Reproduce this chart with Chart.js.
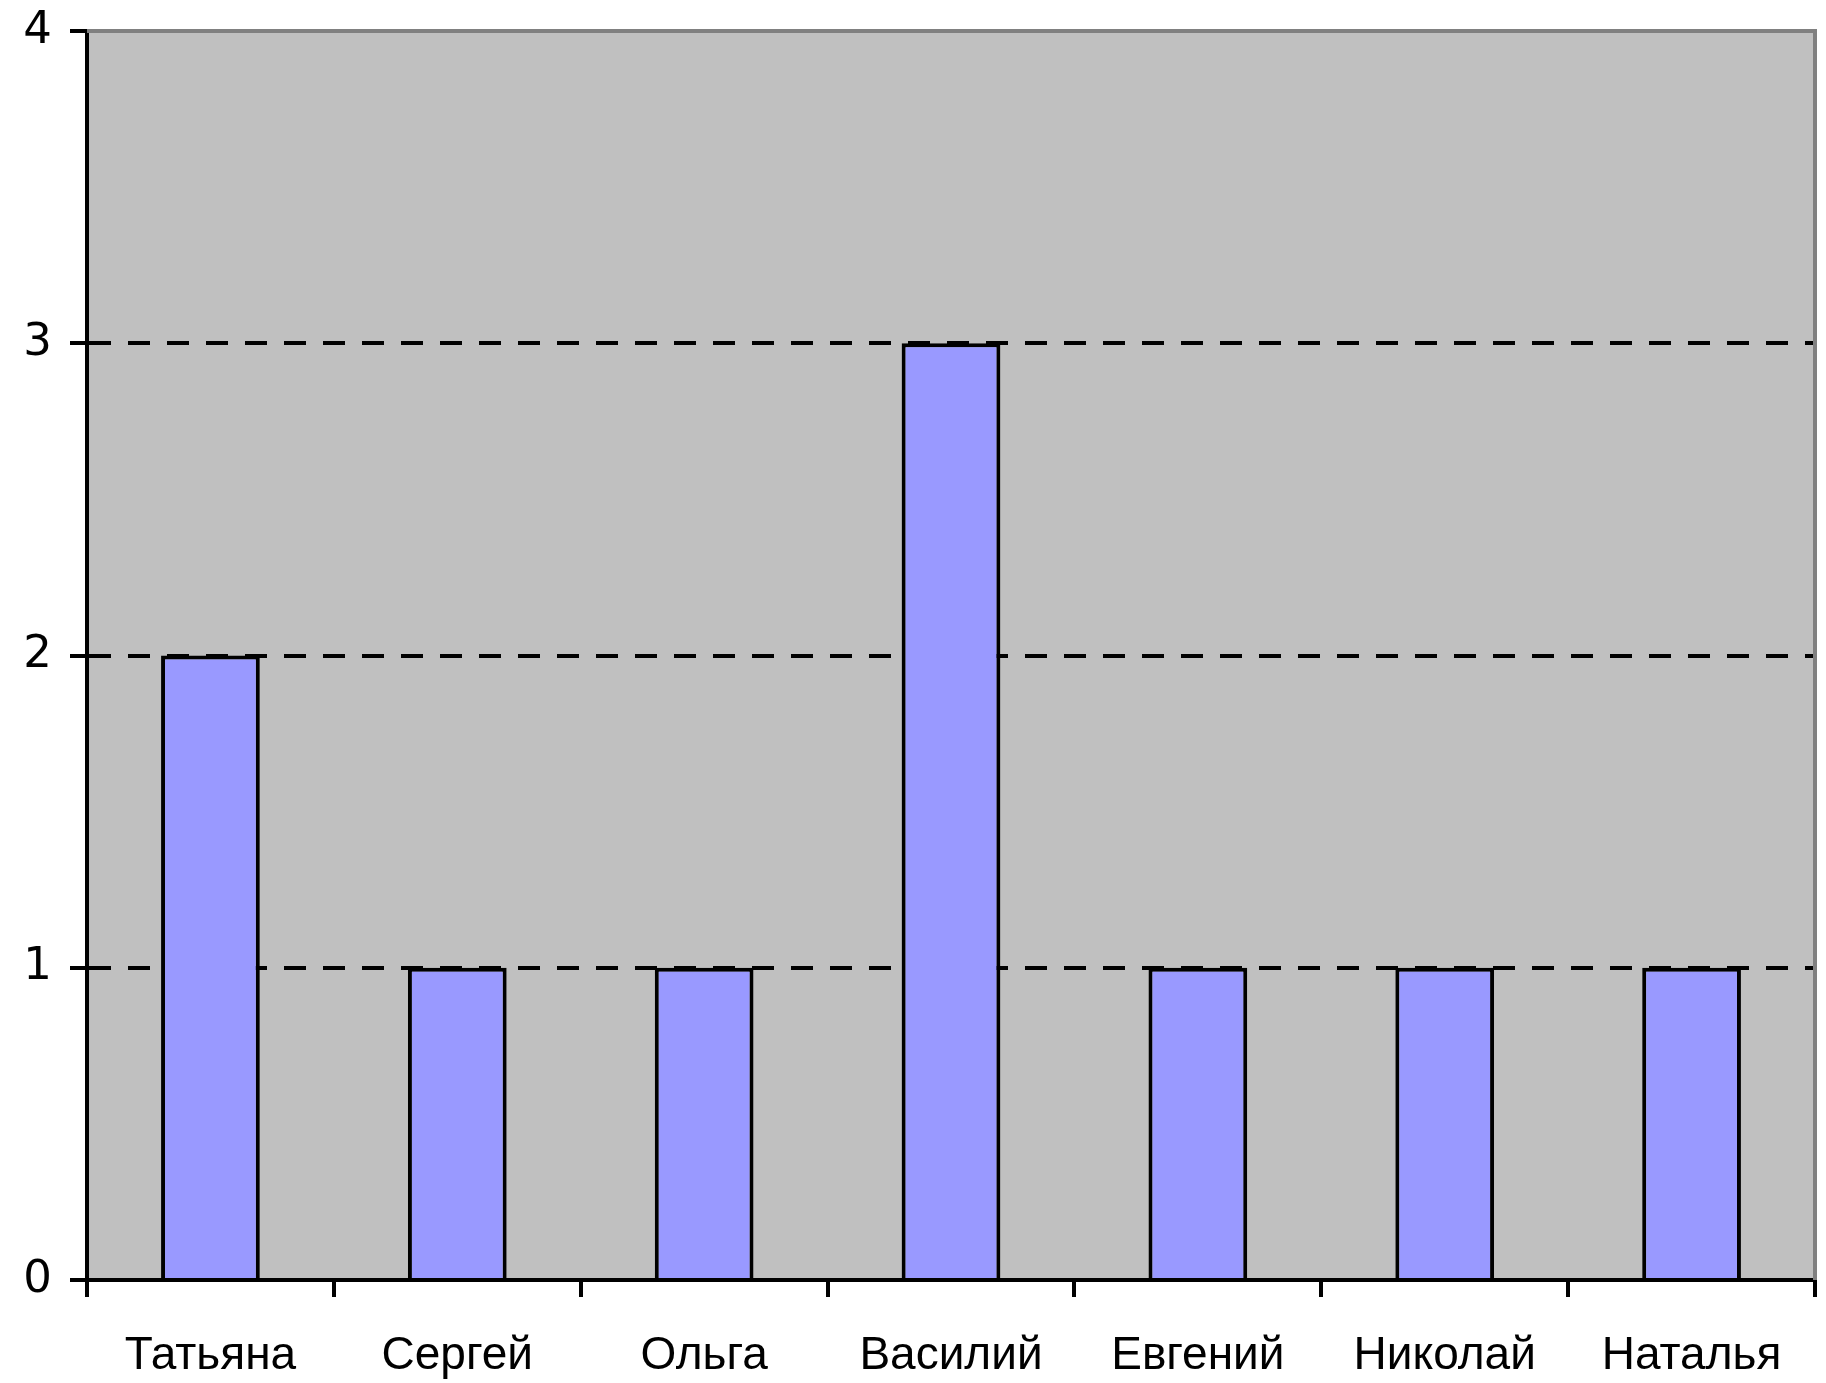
<!DOCTYPE html>
<html>
<head>
<meta charset="utf-8">
<script src="https://cdn.jsdelivr.net/npm/chart.js@4/dist/chart.umd.min.js"></script>
<style>
  html, body { margin: 0; padding: 0; background: #fff; }
  #wrap { width: 1826px; height: 1383px; }
</style>
</head>
<body>
<div id="wrap"><canvas id="chart"></canvas></div>
<script>
// Datos del gráfico
const names = ['Татьяна', 'Сергей', 'Ольга', 'Василий', 'Евгений', 'Николай', 'Наталья'];
const counts = [2, 1, 1, 3, 1, 1, 1];
const yTicks = [0, 1, 2, 3, 4];

// Fondo gris del área de trazado y borde superior/derecho
const plotArea = {
    id: 'plotArea',
    beforeDraw(chart) {
        const { ctx, chartArea: a } = chart;
        ctx.save();
        ctx.fillStyle = '#c0c0c0';
        ctx.fillRect(a.left, a.top, a.right - a.left, a.bottom - a.top);
        ctx.restore();
    },
    afterDraw(chart) {
        const { ctx, chartArea: a } = chart;
        ctx.save();
        ctx.strokeStyle = '#808080';
        ctx.lineWidth = 4;
        ctx.beginPath();
        ctx.moveTo(a.left, a.top);
        ctx.lineTo(a.right, a.top);
        ctx.lineTo(a.right, a.bottom);
        ctx.stroke();
        ctx.restore();
    }
};

const ctx = document.getElementById('chart').getContext('2d');
new Chart(ctx, {
    type: 'bar',
    data: {
        labels: names,
        datasets: [{
            data: counts,
            backgroundColor: '#9999ff',
            borderColor: '#000000',
            borderWidth: 4,
            barPercentage: 0.4,
            categoryPercentage: 1.0
        }]
    },
    options: {
        responsive: true,
        maintainAspectRatio: false,
        animation: false,
        layout: { padding: { top: 31, right: 11, left: 0, bottom: 0 } },
        plugins: {
            legend: { display: false },
            tooltip: { enabled: false }
        },
        scales: {
            x: {
                offset: true,
                grid: {
                    offset: true,
                    drawOnChartArea: false,
                    drawTicks: true,
                    tickLength: 17,
                    tickColor: '#000',
                    lineWidth: 4
                },
                border: { display: true, color: '#000', width: 4 },
                ticks: {
                    color: '#000',
                    padding: 32,
                    maxRotation: 0,
                    autoSkip: false,
                    font: { family: 'Liberation Sans, Arial, sans-serif', size: 46 }
                },
                afterFit(scale) {
                    scale.height = 103;
                    scale.paddingLeft = 0;
                    scale.paddingRight = 0;
                }
            },
            y: {
                min: 0,
                max: 4,
                afterBuildTicks(scale) { scale.ticks = yTicks.map(v => ({ value: v })); },
                grid: {
                    color: c => (c.tick && (c.tick.value === 0 || c.tick.value === 4)) ? 'rgba(0,0,0,0)' : '#000',
                    tickColor: '#000',
                    lineWidth: 4,
                    tickLength: 17,
                    tickBorderDash: []
                },
                border: { display: true, color: '#000', width: 4, dash: [22, 17] },
                ticks: {
                    color: '#000',
                    padding: 18,
                    font: { family: 'DejaVu Sans, sans-serif', size: 45 }
                },
                afterFit(scale) {
                    scale.width = 87;
                    scale.paddingTop = 0;
                    scale.paddingBottom = 0;
                }
            }
        }
    },
    plugins: [plotArea]
});
</script>
</body>
</html>
